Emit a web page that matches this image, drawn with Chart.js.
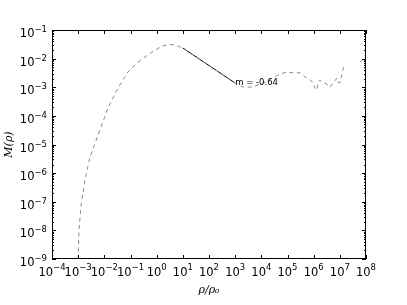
<!DOCTYPE html>
<html>
<head>
<meta charset="utf-8">
<script src="https://cdn.jsdelivr.net/npm/chart.js@4"></script>
<style>
  body { margin: 0; background: #fff; }
</style>
</head>
<body>
<canvas id="myChart" width="407" height="305"></canvas>
<script>
// values
const rho = [1e-3, 1.07e-3, 1.29e-3, 1.82e-3, 2.8e-3, 6.8e-3, 1.38e-2, 3.0e-2, 7.9e-2, 0.195, 0.66, 1.6, 3.2, 6.5, 10,
             100, 1000, 2.0e3, 4.8e3, 1.4e4, 5.1e4, 9.6e4, 1.6e5, 3.0e5, 4.7e5, 7.2e5, 9.4e5, 1.1e6, 1.35e6, 1.45e6,
             1.7e6, 2.1e6, 2.7e6, 3.5e6, 4.2e6, 5.5e6, 7.8e6, 8.5e6, 1.0e7, 1.2e7, 1.45e7, 3.0e7, 5.9e7, 7.1e7];
const mass = [1e-9, 1.0e-8, 7.6e-8, 5.8e-7, 3.6e-6, 3.2e-5, 1.9e-4, 7.9e-4, 3.4e-3, 7.6e-3, 1.7e-2, 2.75e-2, 3.2e-2, 2.75e-2, 2.35e-2,
              5.8e-3, 1.4e-3, 1.02e-3, 1.02e-3, 1.5e-3, 2.9e-3, 3.4e-3, 3.2e-3, 3.2e-3, 2.3e-3, 1.8e-3, 1.5e-3, 1.0e-3, 7.9e-4, 1.5e-3,
              1.8e-3, 1.5e-3, 1.4e-3, 1.2e-3, 1.0e-3, 1.4e-3, 2.1e-3, 1.5e-3, 1.4e-3, 2.7e-3, 6.3e-3, null, 7.6e-3, 8.9e-3];

const fitRho = [10, 1000];
const fitMass = [2.35e-2, 1.4e-3];
const fitLabel = 'm = -0.64';

const xTickValues = [1e-4, 1e-3, 1e-2, 1e-1, 1e0, 1e1, 1e2, 1e3, 1e4, 1e5, 1e6, 1e7, 1e8];
const yTickValues = [1e-9, 1e-8, 1e-7, 1e-6, 1e-5, 1e-4, 1e-3, 1e-2, 1e-1];

const FONT = '"DejaVu Sans"';

// "10" with a raised exponent, like matplotlib mathtext
function drawPower(ctx, v, x, baseY, align, raise)
{
    const e = String(Math.round(Math.log10(v))).replace('-', '\u2212');
    ctx.font = '11.5px ' + FONT;
    const wb = ctx.measureText('10').width;
    ctx.font = '8.5px ' + FONT;
    const we = ctx.measureText(e).width;
    const left = align === 'center' ? x - (wb + we) / 2 : x - (wb + we);
    ctx.textAlign = 'left';
    ctx.textBaseline = 'alphabetic';
    ctx.font = '11.5px ' + FONT;
    ctx.fillText('10', left, baseY);
    ctx.font = '8.5px ' + FONT;
    ctx.fillText(e, left + wb, baseY - raise);
}

// frame, inward ticks, tick labels and slope label
const frameTicks = {
    id: 'frameTicks',
    afterDatasetsDraw(chart)
    {
        const {ctx, chartArea: a, scales: {x, y}} = chart;
        ctx.save();
        ctx.strokeStyle = '#000';
        ctx.lineWidth = 1;
        ctx.beginPath();
        xTickValues.forEach(v => {
            const px = Math.round(x.getPixelForValue(v)) + 0.5;
            ctx.moveTo(px, a.bottom); ctx.lineTo(px, a.bottom - 4);
            ctx.moveTo(px, a.top); ctx.lineTo(px, a.top + 4);
        });
        yTickValues.forEach((v, i) => {
            const py = Math.round(y.getPixelForValue(v)) + 0.5;
            ctx.moveTo(a.left, py); ctx.lineTo(a.left + 4, py);
            ctx.moveTo(a.right, py); ctx.lineTo(a.right - 4, py);
            if (i < yTickValues.length - 1) {
                for (let k = 2; k <= 9; k++) {
                    const pm = Math.round(y.getPixelForValue(v * k)) + 0.5;
                    ctx.moveTo(a.left, pm); ctx.lineTo(a.left + 2, pm);
                    ctx.moveTo(a.right, pm); ctx.lineTo(a.right - 2, pm);
                }
            }
        });
        ctx.stroke();
        ctx.strokeRect(a.left + 0.5, a.top + 0.5, a.right - a.left - 1, a.bottom - a.top - 1);

        ctx.fillStyle = '#000';
        xTickValues.forEach(v => drawPower(ctx, v, x.getPixelForValue(v), a.bottom + 17, 'center', 6.5));
        yTickValues.forEach(v => drawPower(ctx, v, a.left - 5, y.getPixelForValue(v) + 7, 'right', 5));

        ctx.font = '8.5px ' + FONT;
        ctx.textAlign = 'left';
        ctx.textBaseline = 'middle';
        ctx.fillText(fitLabel, x.getPixelForValue(fitRho[1]), y.getPixelForValue(fitMass[1]));
        ctx.restore();
    }
};

Chart.defaults.font.family = FONT;
Chart.defaults.color = '#000';

let myChart = document.getElementById('myChart').getContext('2d');

let chart_1 = new Chart(myChart,
{
    type: 'scatter',
    data:
    {
        datasets:
        [
            {
                label: 'M',
                data: rho.map((r, i) => ({x: r, y: mass[i]})),
                showLine: true,
                spanGaps: false,
                borderColor: '#8a8a8a',
                borderWidth: 1,
                borderDash: [4, 3.5],
                pointRadius: 0
            },
            {
                label: 'fit',
                data: fitRho.map((r, i) => ({x: r, y: fitMass[i]})),
                showLine: true,
                borderColor: '#000',
                borderWidth: 1,
                pointRadius: 0
            }
        ]
    },
    options:
    {
        responsive: false,
        animation: false,
        layout: { padding: { left: 0, right: 41, top: 30, bottom: 0 } },
        plugins:
        {
            legend: { display: false },
            tooltip: { enabled: false }
        },
        scales:
        {
            x:
            {
                type: 'logarithmic',
                min: 1e-4,
                max: 1e8,
                afterBuildTicks: s => { s.ticks = xTickValues.map(v => ({value: v, major: true})); },
                afterFit: s => { s.height = 46; },
                grid: { display: false, drawTicks: false },
                border: { display: false },
                ticks: { display: false },
                title:
                {
                    display: true,
                    text: '\u03C1/\u03C1\u2080',
                    font: { family: '"DejaVu Serif"', style: 'italic', size: 11 },
                    padding: { top: 0, bottom: 8 }
                }
            },
            y:
            {
                type: 'logarithmic',
                min: 1e-9,
                max: 1e-1,
                afterBuildTicks: s => { s.ticks = yTickValues.map(v => ({value: v, major: true})); },
                afterFit: s => { s.width = 52; },
                grid: { display: false, drawTicks: false },
                border: { display: false },
                ticks: { display: false },
                title:
                {
                    display: true,
                    text: 'M(\u03C1)',
                    font: { family: '"DejaVu Serif"', style: 'italic', size: 11 },
                    padding: { top: 3, bottom: 0 }
                }
            }
        }
    },
    plugins: [frameTicks]
});
</script>
</body>
</html>
